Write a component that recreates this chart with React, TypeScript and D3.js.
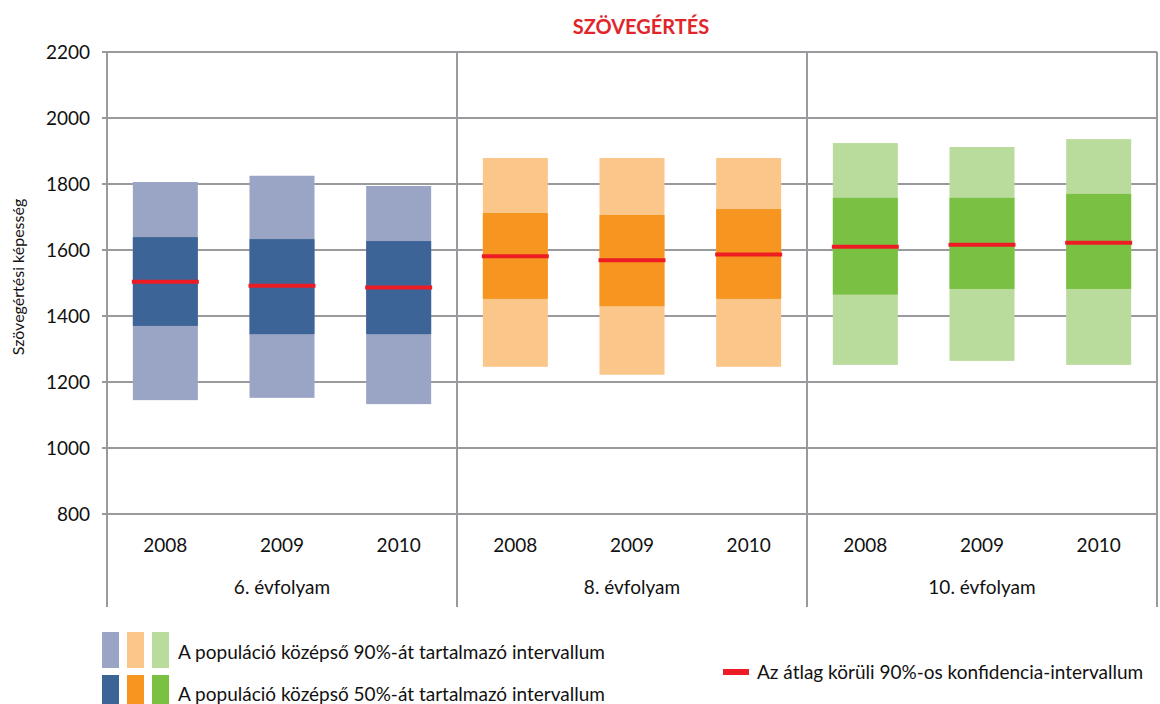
import React from "react";
import * as d3 from "d3";

const groups = ["6. évfolyam", "8. évfolyam", "10. évfolyam"];
const years = ["2008", "2009", "2010"];
// per group, per year
const p5 = [[1145, 1152, 1133], [1246, 1222, 1246], [1252, 1264, 1252]];
const p25 = [[1370, 1345, 1345], [1452, 1430, 1452], [1465, 1482, 1482]];
const p75 = [[1639, 1633, 1627], [1712, 1706, 1724], [1758, 1758, 1770]];
const p95 = [[1806, 1825, 1794], [1879, 1879, 1879], [1924, 1912, 1936]];
const means = [[1504, 1492, 1486], [1581, 1569, 1586], [1610, 1616, 1622]];
const yTicks = [800, 1000, 1200, 1400, 1600, 1800, 2000, 2200];
const lightColors = ["#9AA5C6", "#FBC68A", "#B9DB9B"];
const darkColors = ["#3C6496", "#F6951F", "#7AC143"];
const title = "SZÖVEGÉRTÉS";
const yTitle = "Szövegértési képesség";
const legend90 = "A populáció középső 90%-át tartalmazó intervallum";
const legend50 = "A populáció középső 50%-át tartalmazó intervallum";
const legendMean = "Az átlag körüli 90%-os konfidencia-intervallum";

const W = 1160, H = 704;
const L = 107, R = 1157, T = 52, B = 514, BOTTOM = 607;
const FONT = "Lato, 'Open Sans', sans-serif";
const GRID = "#9a9a9e";

export default function App() {
  const cats: string[] = [];
  groups.forEach((g, gi) => years.forEach((yr) => cats.push(gi + "-" + yr)));
  const pi = 0.443;
  const x = d3.scaleBand<string>().domain(cats).range([L, R]).paddingInner(pi).paddingOuter(pi / 2);
  const y = d3.scaleLinear().domain([800, 2200]).range([B, T]);
  const gx = d3.scaleBand<string>().domain(groups).range([L, R]);
  const bw = x.bandwidth();

  return (
    <svg width={W} height={H} style={{ position: "absolute", left: 0, top: 0, background: "#fff" }} fontFamily={FONT}>
      <rect x={0} y={0} width={W} height={H} fill="#fff" />
      <text x={641} y={27} dy="0.35em" textAnchor="middle" fill="#E0262B" fontWeight="bold" fontSize={20}>{title}</text>
      {/* gridlines */}
      {yTicks.map((t) => (
        <g key={t}>
          <line x1={L - 5} x2={R} y1={y(t)} y2={y(t)} stroke={GRID} strokeWidth={2} />
          <text x={90} y={y(t)} dy="0.35em" textAnchor="end" fontSize={19} fill="#111">{t}</text>
        </g>
      ))}
      {/* bars */}
      {groups.map((g, gi) =>
        years.map((yr, yi) => {
          const k = gi + "-" + yr;
          const bx = x(k)!;
          return (
            <g key={k}>
              <rect x={bx} width={bw} y={y(p95[gi][yi])} height={y(p5[gi][yi]) - y(p95[gi][yi])} fill={lightColors[gi]} />
              <rect x={bx} width={bw} y={y(p75[gi][yi])} height={y(p25[gi][yi]) - y(p75[gi][yi])} fill={darkColors[gi]} />
              <line x1={bx - 1} x2={bx + bw + 1} y1={y(means[gi][yi])} y2={y(means[gi][yi])} stroke="#ED1C24" strokeWidth={4} />
              <text x={bx + bw / 2} y={545} dy="0.35em" textAnchor="middle" fontSize={19} fill="#111">{yr}</text>
            </g>
          );
        })
      )}
      {/* axes & separators */}
      <line x1={L} x2={L} y1={T} y2={BOTTOM} stroke={GRID} strokeWidth={2} />
      {groups.map((g) => (
        <g key={g}>
          <line x1={gx(g)! + gx.bandwidth()} x2={gx(g)! + gx.bandwidth()} y1={T} y2={BOTTOM} stroke={GRID} strokeWidth={2} />
          <text x={gx(g)! + gx.bandwidth() / 2} y={587} dy="0.35em" textAnchor="middle" fontSize={19} fill="#111">{g}</text>
        </g>
      ))}
      <text transform={`translate(24,${277}) rotate(-90)`} textAnchor="middle" fontSize={16} fill="#111">{yTitle}</text>
      {/* legend */}
      {lightColors.map((c, i) => (
        <g key={c}>
          <rect x={102 + i * 25} y={632} width={17} height={36} fill={c} />
          <rect x={102 + i * 25} y={675} width={17} height={36} fill={darkColors[i]} />
        </g>
      ))}
      <text x={178} y={652} dy="0.35em" fontSize={19} fill="#111">{legend90}</text>
      <text x={178} y={694} dy="0.35em" fontSize={19} fill="#111">{legend50}</text>
      <line x1={723} x2={749} y1={672} y2={672} stroke="#ED1C24" strokeWidth={6} />
      <text x={757} y={672} dy="0.35em" fontSize={19} fill="#111">{legendMean}</text>
    </svg>
  );
}
